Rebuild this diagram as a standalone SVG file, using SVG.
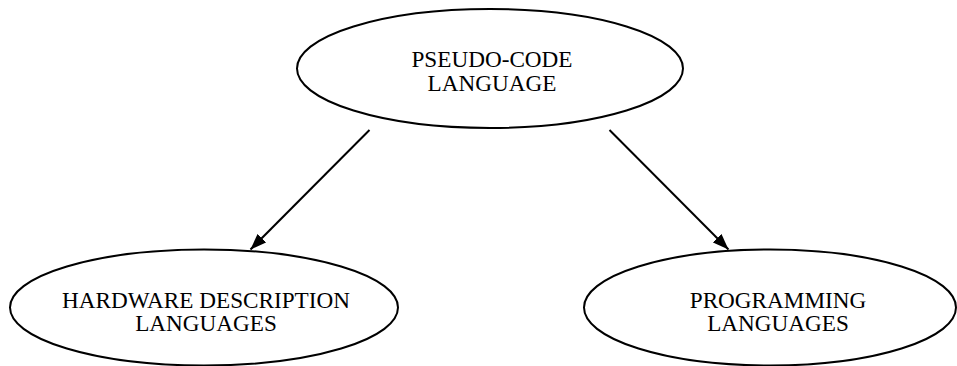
<svg xmlns="http://www.w3.org/2000/svg" width="957" height="366" viewBox="0 0 957 366">
<defs>
<style>
.node ellipse{fill:#fff;stroke:#000;stroke-width:2}
.node text{font-family:"Liberation Serif","Times New Roman",serif;font-size:23.2px;fill:#000;text-anchor:middle}
.edge{stroke:#000;stroke-width:2;fill:none}
</style>
<marker id="arr" viewBox="0 0 16 12" refX="16" refY="6" markerWidth="16" markerHeight="12" markerUnits="userSpaceOnUse" orient="auto">
<path d="M0,0 L16,6 L0,12 Z" fill="#000"/>
</marker>
</defs>
<rect width="957" height="366" fill="#fff"/>
<g id="connectors">
<line class="edge" x1="369.5" y1="130" x2="250.5" y2="249.5" marker-end="url(#arr)"/>
<line class="edge" x1="609.5" y1="130" x2="728.5" y2="249.5" marker-end="url(#arr)"/>
</g>
<g id="pseudo-code" class="node">
<ellipse cx="490" cy="68.5" rx="193" ry="59.5"/>
<text x="492" y="67">PSEUDO-CODE</text>
<text x="492" y="90.5">LANGUAGE</text>
</g>
<g id="hdl" class="node">
<ellipse cx="204" cy="307.5" rx="194" ry="58"/>
<text x="206" y="307.5">HARDWARE DESCRIPTION</text>
<text x="206" y="331">LANGUAGES</text>
</g>
<g id="programming" class="node">
<ellipse cx="770" cy="307.5" rx="186" ry="58"/>
<text x="778" y="307.5">PROGRAMMING</text>
<text x="778" y="331">LANGUAGES</text>
</g>
</svg>
